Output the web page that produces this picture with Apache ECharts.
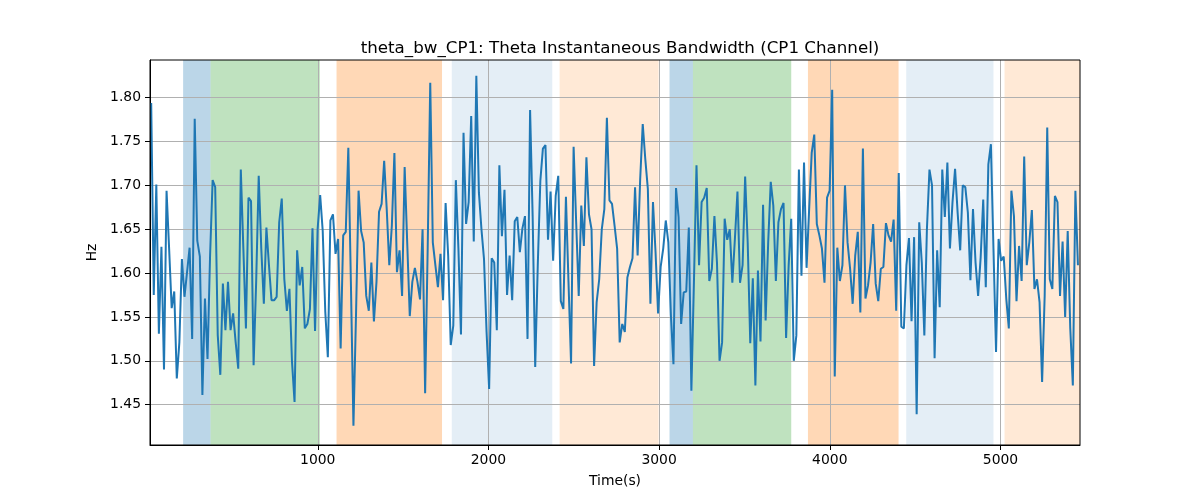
<!DOCTYPE html>
<html>
<head>
<meta charset="utf-8">
<script src="https://cdn.jsdelivr.net/npm/echarts@6/dist/echarts.min.js"></script>
<style>
  html, body { margin: 0; padding: 0; background: #fff; }
  #chart { width: 1200px; height: 500px; }
</style>
</head>
<body>
<div id="chart"></div>
<script>
// sampling of the time axis (s)
const t0 = 24
const dt = 15

// theta bandwidth (Hz), read left to right
const bandwidth = [
  1.794, 1.575, 1.701, 1.531, 1.630, 1.490, 1.694, 1.628, 1.560, 1.579,
  1.480, 1.521, 1.616, 1.573, 1.601, 1.629, 1.525, 1.776, 1.637, 1.619,
  1.461, 1.571, 1.502, 1.620, 1.706, 1.698, 1.529, 1.484, 1.588, 1.535,
  1.590, 1.535, 1.554, 1.521, 1.491, 1.718, 1.628, 1.537, 1.686, 1.682,
  1.495, 1.590, 1.711, 1.628, 1.565, 1.652, 1.609, 1.569, 1.569, 1.573,
  1.658, 1.685, 1.593, 1.557, 1.582, 1.499, 1.453, 1.626, 1.586, 1.607,
  1.537, 1.542, 1.559, 1.651, 1.534, 1.650, 1.689, 1.648, 1.556, 1.504,
  1.660, 1.667, 1.622, 1.639,

  1.514, 1.643, 1.647, 1.743, 1.590, 1.426, 1.552, 1.694, 1.648, 1.635,
  1.574, 1.557, 1.612, 1.545, 1.590, 1.670, 1.679, 1.728, 1.673, 1.609,
  1.654, 1.737, 1.601, 1.626, 1.574, 1.721, 1.635, 1.551, 1.590, 1.606,
  1.590, 1.570, 1.650, 1.463, 1.628, 1.817, 1.635, 1.609, 1.584, 1.622,
  1.569, 1.680, 1.620, 1.518, 1.540, 1.706, 1.628, 1.530, 1.760, 1.656,
  1.681, 1.779, 1.636, 1.825, 1.692, 1.650, 1.616, 1.533, 1.468, 1.617,
  1.612, 1.535, 1.723, 1.642, 1.695, 1.575, 1.620, 1.569, 1.659, 1.664,
  1.624, 1.651, 1.665, 1.525,

  1.786, 1.665, 1.493, 1.609, 1.705, 1.742, 1.746, 1.638, 1.693, 1.614,
  1.688, 1.711, 1.568, 1.559, 1.687, 1.590, 1.497, 1.744, 1.658, 1.574,
  1.677, 1.631, 1.732, 1.667, 1.650, 1.494, 1.567, 1.593, 1.650, 1.673,
  1.777, 1.683, 1.679, 1.654, 1.628, 1.521, 1.542, 1.533, 1.595, 1.607,
  1.617, 1.698, 1.620, 1.707, 1.770, 1.730, 1.696, 1.565, 1.681, 1.624,
  1.554, 1.607, 1.628, 1.660, 1.635, 1.552, 1.496, 1.697, 1.664, 1.542,
  1.578, 1.579, 1.652, 1.466, 1.590, 1.723, 1.609, 1.681, 1.686, 1.697,
  1.591, 1.605, 1.665, 1.612,

  1.500, 1.521, 1.662, 1.638, 1.650, 1.589, 1.639, 1.693, 1.589, 1.609,
  1.710, 1.635, 1.520, 1.594, 1.472, 1.603, 1.522, 1.678, 1.546, 1.635,
  1.704, 1.677, 1.591, 1.658, 1.673, 1.680, 1.526, 1.609, 1.662, 1.500,
  1.529, 1.718, 1.597, 1.726, 1.606, 1.673, 1.737, 1.758, 1.656, 1.643,
  1.628, 1.589, 1.686, 1.694, 1.809, 1.482, 1.629, 1.591, 1.609, 1.700,
  1.635, 1.605, 1.565, 1.620, 1.647, 1.555, 1.742, 1.571, 1.586, 1.612,
  1.656, 1.588, 1.568, 1.605, 1.607, 1.657, 1.643, 1.636, 1.661, 1.557,
  1.714, 1.539, 1.537, 1.609,

  1.640, 1.545, 1.641, 1.439, 1.658, 1.612, 1.529, 1.650, 1.718, 1.700,
  1.503, 1.626, 1.561, 1.718, 1.664, 1.726, 1.628, 1.681, 1.719, 1.669,
  1.626, 1.700, 1.698, 1.669, 1.592, 1.673, 1.612, 1.574, 1.618, 1.684,
  1.584, 1.724, 1.747, 1.628, 1.510, 1.639, 1.614, 1.619, 1.571, 1.537,
  1.694, 1.665, 1.568, 1.631, 1.591, 1.733, 1.609, 1.635, 1.672, 1.582,
  1.593, 1.567, 1.476, 1.574, 1.766, 1.593, 1.582, 1.688, 1.681, 1.574,
  1.636, 1.550, 1.648, 1.537, 1.472, 1.694, 1.609
]

// shaded segments: start (s), end (s), kind
const bandStarts = [211, 372, 1110, 1785, 2417, 3061, 3198, 3872, 4448, 5024]
const bandEnds   = [372, 1012, 1728, 2374, 2997, 3198, 3774, 4403, 4959, 5466]
const bandKinds  = ['blue', 'green', 'orange', 'lightblue', 'lightorange',
                    'blue', 'green', 'orange', 'lightblue', 'lightorange']

const xTicks = [1000, 2000, 3000, 4000, 5000]
const yTicks = [1.45, 1.50, 1.55, 1.60, 1.65, 1.70, 1.75, 1.80]

const bandColors = {
  blue: 'rgba(31,119,180,0.3)',
  green: 'rgba(44,160,44,0.3)',
  orange: 'rgba(255,127,14,0.3)',
  lightblue: 'rgba(31,119,180,0.12)',
  lightorange: 'rgba(255,127,14,0.17)'
}

const lineData = bandwidth.map((v, i) => [t0 + i * dt, v])
const bandData = bandStarts.map((s, i) => [s, bandEnds[i], i])

const font = 'DejaVu Sans'
const chart = echarts.init(document.getElementById('chart'))

chart.setOption({
  animation: false,
  backgroundColor: '#fff',
  title: {
    text: 'theta_bw_CP1: Theta Instantaneous Bandwidth (CP1 Channel)',
    left: 615,
    top: 35,
    textAlign: 'center',
    textStyle: { fontFamily: font, fontSize: 16.7, fontWeight: 'normal', color: '#000' }
  },
  grid: { left: 150, right: 120, top: 60, bottom: 55 },
  xAxis: {
    type: 'value',
    min: 17,
    max: 5466,
    z: 3,
    name: 'Time(s)',
    nameLocation: 'middle',
    nameGap: 29,
    nameTextStyle: { fontFamily: font, fontSize: 13.9, color: '#000' },
    axisLine: { show: true, onZero: false, lineStyle: { color: '#000', width: 1 } },
    axisTick: { show: true, length: 5, customValues: xTicks, lineStyle: { color: '#000' } },
    axisLabel: {
      customValues: xTicks,
      margin: 8,
      fontFamily: font,
      fontSize: 13.9,
      color: '#000',
      formatter: v => String(Math.round(v))
    },
    splitLine: { show: true, lineStyle: { color: '#b0b0b0', width: 1 } }
  },
  yAxis: {
    type: 'value',
    min: 1.404,
    max: 1.843,
    z: 3,
    name: 'Hz',
    nameLocation: 'middle',
    nameGap: 44,
    nameRotate: 90,
    nameTextStyle: { fontFamily: font, fontSize: 13.9, color: '#000' },
    axisLine: { show: true, onZero: false, lineStyle: { color: '#000', width: 1 } },
    axisTick: { show: true, length: 5, customValues: yTicks, lineStyle: { color: '#000' } },
    axisLabel: {
      customValues: yTicks,
      margin: 9,
      fontFamily: font,
      fontSize: 13.9,
      color: '#000',
      formatter: v => v.toFixed(2)
    },
    splitLine: { show: true, lineStyle: { color: '#b0b0b0', width: 1 } }
  },
  series: [
    {
      type: 'custom',
      z: 1,
      silent: true,
      data: bandData,
      encode: { x: [0, 1] },
      renderItem: (params, api) => {
        const x0 = api.coord([api.value(0), 0])[0]
        const x1 = api.coord([api.value(1), 0])[0]
        const cs = params.coordSys
        return {
          type: 'rect',
          shape: { x: x0, y: cs.y, width: x1 - x0, height: cs.height },
          style: { fill: bandColors[bandKinds[api.value(2)]] }
        }
      }
    },
    {
      type: 'line',
      z: 5,
      data: lineData,
      showSymbol: false,
      clip: true,
      lineStyle: { color: '#1f77b4', width: 2 }
    }
  ],
  graphic: [
    {
      type: 'rect',
      z: 10,
      silent: true,
      shape: { x: 150, y: 60, width: 930, height: 385 },
      style: { fill: 'none', stroke: '#000', lineWidth: 1 }
    }
  ]
})
</script>
</body>
</html>
